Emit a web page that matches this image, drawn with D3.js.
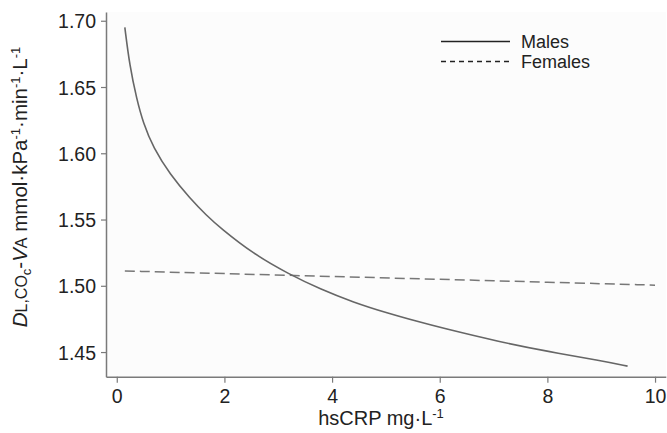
<!DOCTYPE html>
<html>
<head>
<meta charset="utf-8">
<script src="https://cdn.jsdelivr.net/npm/d3@7"></script>
<style>
  body { margin: 0; background: #fff; }
  text { font-family: "Liberation Sans", Arial, sans-serif; fill: #222; }
</style>
</head>
<body>
<svg id="chart" width="667" height="433"></svg>
<script>
// values
const malesX = [0.15, 0.24, 0.37, 0.49, 0.68, 0.99, 1.36, 1.67, 1.92, 2.54, 3.19, 3.78, 4.40, 5.02, 5.64, 6.01, 7.13, 8.0, 8.99, 9.49];
const malesY = [1.695, 1.666, 1.641, 1.623, 1.604, 1.584, 1.566, 1.553, 1.5438, 1.524, 1.509, 1.4975, 1.4875, 1.4795, 1.4725, 1.4685, 1.4575, 1.4505, 1.4435, 1.4394];
const femalesX = [0.15, 2, 4, 6, 8, 10];
const femalesY = [1.5112, 1.5092, 1.5070, 1.5049, 1.5027, 1.5005];
const xTicks = [0, 2, 4, 6, 8, 10];
const yTicks = [1.45, 1.50, 1.55, 1.60, 1.65, 1.70];
const seriesNames = ["Males", "Females"];

const svg = d3.select("#chart");

const x = d3.scaleLinear().domain([-0.2, 10.2]).range([106, 665.8]);
const y = d3.scaleLinear().domain([1.4314, 1.7066]).range([376.7, 12]);

// plot background
svg.append("rect")
  .attr("x", x.range()[0])
  .attr("y", y.range()[1])
  .attr("width", x.range()[1] - x.range()[0])
  .attr("height", y.range()[0] - y.range()[1])
  .attr("fill", "#fcfcfc");

const axisColor = "#7a7a7a";

let gx = svg.append("g")
  .attr("transform", `translate(0,${y.range()[0]})`)
  .call(d3.axisBottom(x).tickValues(xTicks).tickSize(6).tickSizeOuter(0).tickPadding(6));
let gy = svg.append("g")
  .attr("transform", `translate(${x.range()[0]},0)`)
  .call(d3.axisLeft(y).tickValues(yTicks).tickFormat(d3.format(".2f")).tickSize(5).tickSizeOuter(0).tickPadding(5));

[gx, gy].forEach((g) => {
  g.select(".domain").attr("stroke", axisColor).attr("stroke-width", 1.5);
  g.selectAll(".tick line").attr("stroke", axisColor).attr("stroke-width", 1.2);
  g.selectAll(".tick text")
    .attr("fill", "#222")
    .style("font-size", "19.5px")
    .style("font-family", "'Liberation Sans', Arial, sans-serif");
});
gy.selectAll(".tick text").attr("dy", "0.36em");

const line = d3.line()
  .x((d) => x(d[0]))
  .y((d) => y(d[1]))
  .curve(d3.curveBasis);

const males = d3.zip(malesX, malesY);
const females = d3.zip(femalesX, femalesY);

svg.append("path")
  .datum(females)
  .attr("d", line)
  .attr("fill", "none")
  .attr("stroke", "#777")
  .attr("stroke-width", 1.5)
  .attr("stroke-dasharray", "10,5");

svg.append("path")
  .datum(males)
  .attr("d", line)
  .attr("fill", "none")
  .attr("stroke", "#666")
  .attr("stroke-width", 1.6);

// legend
const legend = svg.append("g");
seriesNames.forEach((name, i) => {
  const ly = 41.5 + i * 20;
  legend.append("line")
    .attr("x1", 441).attr("x2", 510)
    .attr("y1", ly).attr("y2", ly)
    .attr("stroke", "#222")
    .attr("stroke-width", 1.3)
    .attr("stroke-dasharray", i === 1 ? "5,4" : null);
  legend.append("text")
    .attr("x", 521)
    .attr("y", ly + 6.5)
    .style("font-size", "18px")
    .text(name);
});

// x axis title
const xt = svg.append("text")
  .attr("x", 381)
  .attr("y", 425)
  .attr("text-anchor", "middle")
  .style("font-size", "20px");
xt.append("tspan").text("hsCRP mg·L");
xt.append("tspan").attr("dy", -7).style("font-size", "13px").text("-1");

// y axis title
const yt = svg.append("text")
  .attr("transform", "translate(27,187) rotate(-90)")
  .attr("text-anchor", "middle")
  .style("font-size", "20.5px");
yt.append("tspan").style("font-style", "italic").text("D");
yt.append("tspan").style("font-size", "16px").text("L,CO");
yt.append("tspan").attr("dy", 4).style("font-size", "13px").text("c");
yt.append("tspan").attr("dy", -4).text("-");
yt.append("tspan").style("font-style", "italic").text("V");
yt.append("tspan").style("font-size", "16px").text("A");
yt.append("tspan").text(" mmol·kPa");
yt.append("tspan").attr("dy", -7).style("font-size", "13px").text("-1");
yt.append("tspan").attr("dy", 7).text("·min");
yt.append("tspan").attr("dy", -7).style("font-size", "13px").text("-1");
yt.append("tspan").attr("dy", 7).text("·L");
yt.append("tspan").attr("dy", -7).style("font-size", "13px").text("-1");
</script>
</body>
</html>
